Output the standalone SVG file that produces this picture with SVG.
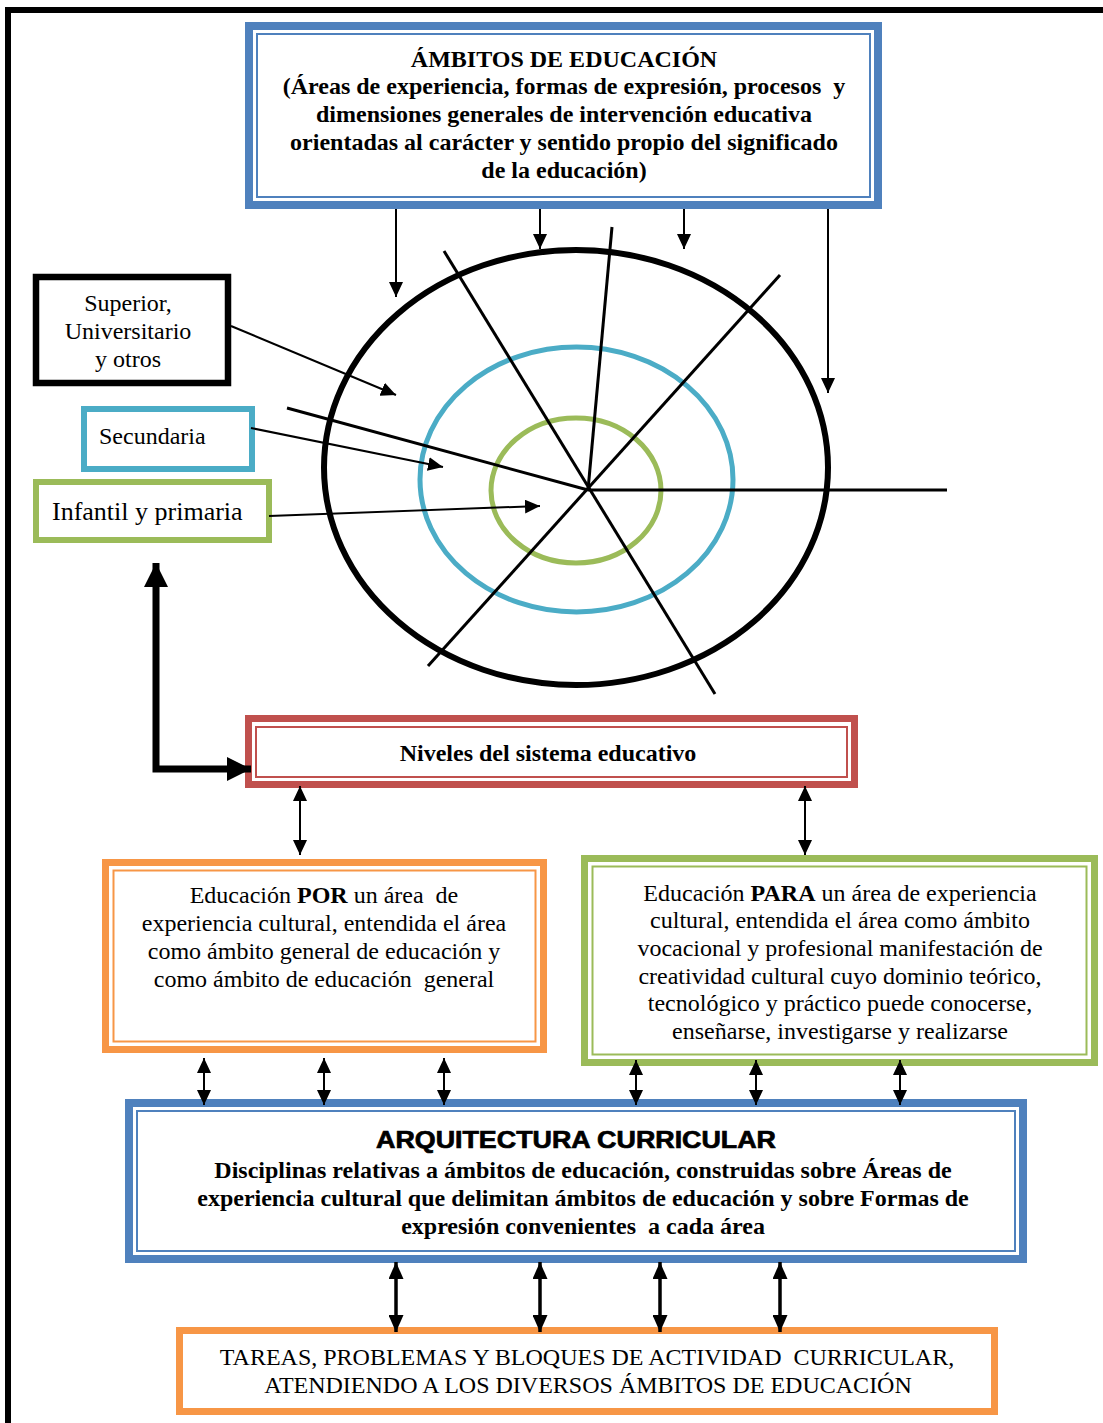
<svg xmlns="http://www.w3.org/2000/svg" width="1103" height="1423" viewBox="0 0 1103 1423">
<style>
.serif{font-family:"Liberation Serif","Times New Roman",serif;font-size:24px;fill:#000}
.b{font-weight:bold}
.c{text-anchor:middle}
.box{fill:#fff}
.thin{fill:none;stroke-width:2}
.ln{stroke:#000;fill:none;stroke-width:2}
.ln3{stroke:#000;fill:none;stroke-width:3.5}
.rad{stroke:#000;fill:none;stroke-width:3}
</style>
<defs>
<marker id="ah" viewBox="0 0 15 14" refX="15" refY="7" markerWidth="15" markerHeight="14" markerUnits="userSpaceOnUse" orient="auto-start-reverse"><path d="M0,0 L15,7 L0,14 z" fill="#000"/></marker>
<marker id="ah2" viewBox="0 0 17 15" refX="17" refY="7.5" markerWidth="17" markerHeight="15" markerUnits="userSpaceOnUse" orient="auto-start-reverse"><path d="M0,0 L17,7.5 L0,15 z" fill="#000"/></marker>
<marker id="big" viewBox="0 0 24 24" refX="24" refY="12" markerWidth="24" markerHeight="24" markerUnits="userSpaceOnUse" orient="auto-start-reverse"><path d="M0,0 L24,12 L0,24 z" fill="#000"/></marker>
</defs>
<rect width="1103" height="1423" fill="#fff"/>
<path d="M8,1423 V10 H1103" fill="none" stroke="#000" stroke-width="6"/>

<g id="ambitos">
<rect class="box" x="249" y="26" width="629" height="179" stroke="#4F81BD" stroke-width="8"/>
<rect class="thin" x="257" y="34" width="613" height="163" stroke="#4F81BD"/>
<text class="serif b c" x="564" y="66.5">ÁMBITOS DE EDUCACIÓN</text>
<text class="serif b c" x="564" y="94.3">(Áreas de experiencia, formas de expresión, procesos &#160;y</text>
<text class="serif b c" x="564" y="122.1">dimensiones generales de intervención educativa</text>
<text class="serif b c" x="564" y="149.9">orientadas al carácter y sentido propio del significado</text>
<text class="serif b c" x="564" y="177.7">de la educación)</text>
</g>

<g id="circulo">
<ellipse cx="576" cy="467.5" rx="252" ry="217.5" fill="none" stroke="#000" stroke-width="6"/>
<ellipse cx="576.5" cy="479.5" rx="156.5" ry="132.5" fill="none" stroke="#4BACC6" stroke-width="5"/>
<ellipse cx="576" cy="490.5" rx="85" ry="72.5" fill="none" stroke="#9BBB59" stroke-width="5"/>
<line class="rad" x1="444" y1="251" x2="715" y2="694"/>
<line class="rad" x1="612" y1="227" x2="588" y2="490"/>
<line class="rad" x1="780" y1="275" x2="428" y2="666"/>
<line class="rad" x1="287" y1="408" x2="588" y2="490"/>
<line class="rad" x1="588" y1="490" x2="947" y2="490"/>
</g>

<g id="superior">
<rect class="box" x="36" y="277" width="192" height="106" stroke="#000" stroke-width="6.5"/>
<text class="serif c" x="128" y="311">Superior,</text>
<text class="serif c" x="128" y="339">Universitario</text>
<text class="serif c" x="128" y="367">y otros</text>
</g>

<g id="secundaria">
<rect class="box" x="84" y="409" width="168" height="60" stroke="#4BACC6" stroke-width="6"/>
<text class="serif" x="99" y="444">Secundaria</text>
</g>

<g id="infantil">
<rect class="box" x="36" y="482" width="233" height="58" stroke="#9BBB59" stroke-width="6"/>
<text class="serif" x="52" y="520" style="font-size:26px">Infantil y primaria</text>
</g>

<g id="niveles">
<rect class="box" x="248.5" y="718.5" width="606" height="66" stroke="#C0504D" stroke-width="7"/>
<rect class="thin" x="256" y="727" width="591" height="50" stroke="#C0504D"/>
<text class="serif b c" x="548" y="761">Niveles del sistema educativo</text>
</g>

<g id="por">
<rect class="box" x="105.5" y="862.5" width="438" height="187" stroke="#F79646" stroke-width="7"/>
<rect class="thin" x="113.5" y="870.5" width="422" height="171" stroke="#F79646"/>
<text class="serif c" x="324" y="903">Educación <tspan class="b">POR</tspan> un área &#160;de</text>
<text class="serif c" x="324" y="931">experiencia cultural, entendida el área</text>
<text class="serif c" x="324" y="959">como ámbito general de educación y</text>
<text class="serif c" x="324" y="987">como ámbito de educación &#160;general</text>
</g>

<g id="para">
<rect class="box" x="584.5" y="858.5" width="510" height="204" stroke="#9BBB59" stroke-width="7"/>
<rect class="thin" x="592.5" y="866.5" width="494" height="188" stroke="#9BBB59"/>
<text class="serif c" x="840" y="900.5">Educación <tspan class="b">PARA</tspan> un área de experiencia</text>
<text class="serif c" x="840" y="928.2">cultural, entendida el área como ámbito</text>
<text class="serif c" x="840" y="955.9">vocacional y profesional manifestación de</text>
<text class="serif c" x="840" y="983.6">creatividad cultural cuyo dominio teórico,</text>
<text class="serif c" x="840" y="1011.3">tecnológico y práctico puede conocerse,</text>
<text class="serif c" x="840" y="1039">enseñarse, investigarse y realizarse</text>
</g>

<g id="arquitectura">
<rect class="box" x="129" y="1103" width="894" height="156" stroke="#4F81BD" stroke-width="8"/>
<rect class="thin" x="137" y="1111" width="878" height="140" stroke="#4F81BD"/>
<text x="576" y="1148" text-anchor="middle" font-family="'Liberation Sans',Arial,sans-serif" font-weight="bold" font-size="24" stroke="#000" stroke-width="0.7" textLength="400" lengthAdjust="spacingAndGlyphs">ARQUITECTURA CURRICULAR</text>
<text class="serif b c" x="583" y="1178">Disciplinas relativas a ámbitos de educación, construidas sobre Áreas de</text>
<text class="serif b c" x="583" y="1206">experiencia cultural que delimitan ámbitos de educación y sobre Formas de</text>
<text class="serif b c" x="583" y="1234">expresión convenientes &#160;a cada área</text>
</g>

<g id="tareas">
<rect class="box" x="179.5" y="1330.5" width="815" height="81" stroke="#F79646" stroke-width="7"/>
<text class="serif c" x="587" y="1365">TAREAS, PROBLEMAS Y BLOQUES DE ACTIVIDAD &#160;CURRICULAR,</text>
<text class="serif c" x="588" y="1393">ATENDIENDO A LOS DIVERSOS ÁMBITOS DE EDUCACIÓN</text>
</g>

<g id="connectors">
<line class="ln" x1="396" y1="209" x2="396" y2="297" marker-end="url(#ah)"/>
<line class="ln" x1="540" y1="209" x2="540" y2="249" marker-end="url(#ah)"/>
<line class="ln" x1="684" y1="209" x2="684" y2="249" marker-end="url(#ah)"/>
<line class="ln" x1="828" y1="209" x2="828" y2="393" marker-end="url(#ah)"/>
<line class="ln" x1="231" y1="326" x2="396" y2="395" marker-end="url(#ah)"/>
<line class="ln" x1="251" y1="428" x2="443" y2="467" marker-end="url(#ah)"/>
<line class="ln" x1="269" y1="516" x2="540" y2="506" marker-end="url(#ah)"/>
<path d="M156,563 V769 H251" fill="none" stroke="#000" stroke-width="7" marker-start="url(#big)" marker-end="url(#big)"/>
<line class="ln" x1="300" y1="786" x2="300" y2="855" marker-start="url(#ah)" marker-end="url(#ah)"/>
<line class="ln" x1="805" y1="786" x2="805" y2="855" marker-start="url(#ah)" marker-end="url(#ah)"/>
<line class="ln" x1="204" y1="1058" x2="204" y2="1105" marker-start="url(#ah)" marker-end="url(#ah)"/>
<line class="ln" x1="324" y1="1058" x2="324" y2="1105" marker-start="url(#ah)" marker-end="url(#ah)"/>
<line class="ln" x1="444" y1="1058" x2="444" y2="1105" marker-start="url(#ah)" marker-end="url(#ah)"/>
<line class="ln" x1="636" y1="1060" x2="636" y2="1105" marker-start="url(#ah)" marker-end="url(#ah)"/>
<line class="ln" x1="756" y1="1060" x2="756" y2="1105" marker-start="url(#ah)" marker-end="url(#ah)"/>
<line class="ln" x1="900" y1="1060" x2="900" y2="1105" marker-start="url(#ah)" marker-end="url(#ah)"/>
<line class="ln3" x1="396" y1="1262" x2="396" y2="1332" marker-start="url(#ah2)" marker-end="url(#ah2)"/>
<line class="ln3" x1="540" y1="1262" x2="540" y2="1332" marker-start="url(#ah2)" marker-end="url(#ah2)"/>
<line class="ln3" x1="660" y1="1262" x2="660" y2="1332" marker-start="url(#ah2)" marker-end="url(#ah2)"/>
<line class="ln3" x1="780" y1="1262" x2="780" y2="1332" marker-start="url(#ah2)" marker-end="url(#ah2)"/>
</g>
</svg>
